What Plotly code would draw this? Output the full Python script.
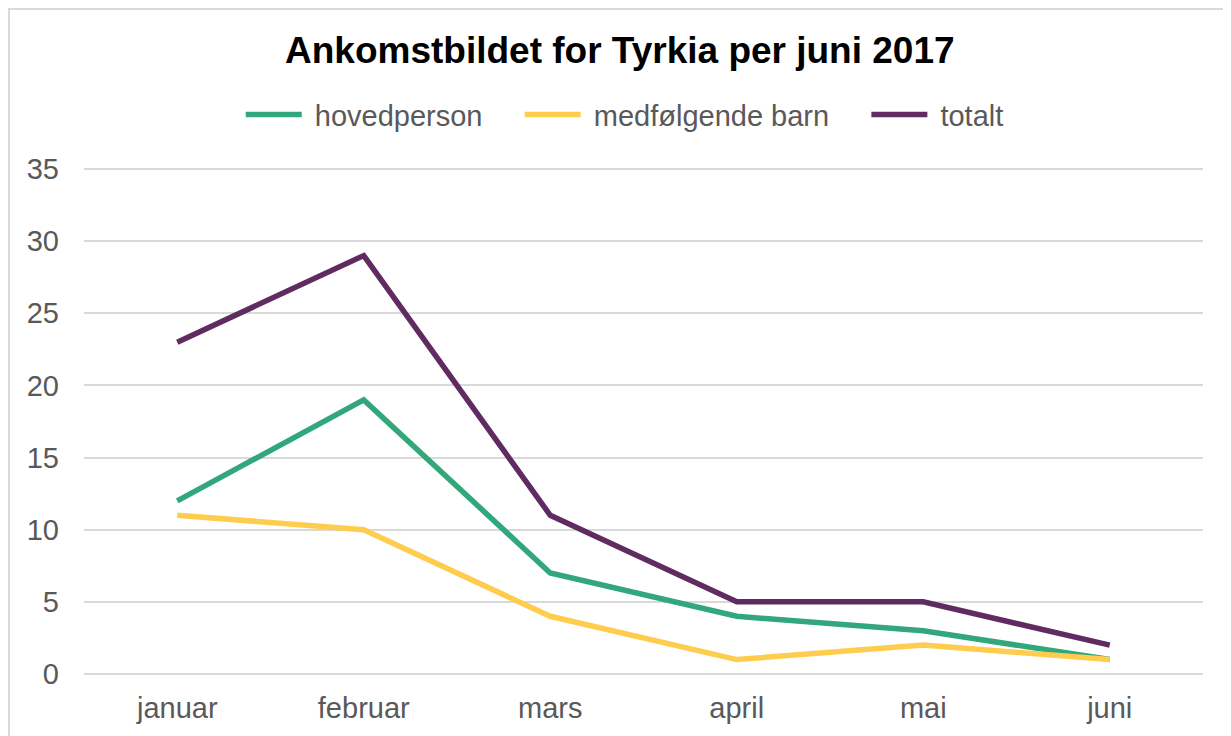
import plotly.graph_objects as go

months = ['januar', 'februar', 'mars', 'april', 'mai', 'juni']
hovedperson = [12, 19, 7, 4, 3, 1]
medfolgende_barn = [11, 10, 4, 1, 2, 1]
totalt = [23, 29, 11, 5, 5, 2]

NB = '\u00a0'
series = [
    ('hovedperson', hovedperson, '#31a77b'),
    ('medfølgende barn', medfolgende_barn, '#fecd4e'),
    ('totalt', totalt, '#5f2b61'),
]

fig = go.Figure()
for name, vals, col in series:
    fig.add_trace(go.Scatter(x=months, y=vals, mode='lines',
                             name=NB + name + NB * 4,
                             line=dict(color=col, width=5.5)))

fig.update_layout(
    width=1231, height=736,
    margin=dict(l=76, r=36, t=160, b=69),
    paper_bgcolor='white', plot_bgcolor='white',
    font=dict(family='Liberation Sans, Arial, sans-serif', color='#595959', size=29),
    title=dict(text='<b>Ankomstbildet for Tyrkia per juni 2017</b>',
               x=0.497, xanchor='center', y=0.943, yanchor='middle',
               font=dict(size=37, color='black')),
    legend=dict(orientation='h', x=0.514, xanchor='center', xref='container',
                y=0.855, yref='container', yanchor='middle',
                font=dict(size=29, color='#595959'), itemwidth=56,
                traceorder='normal'),
    showlegend=True,
)
fig.update_xaxes(type='category', range=[-0.5, 5.5], showgrid=False,
                 showline=False, ticks='', ticklabelstandoff=13,
                 tickfont=dict(size=29))
fig.update_yaxes(range=[-0.07, 35.07], tickvals=[0, 5, 10, 15, 20, 25, 30, 35],
                 showgrid=True, gridcolor='#d9d9d9',
                 gridwidth=1.5, zeroline=False, showline=False, ticks='',
                 ticklabelstandoff=24, tickfont=dict(size=29))

# light outer frame of the chart area
fig.add_shape(type='rect', xref='paper', yref='paper',
              x0=-75 / 1119, x1=1.1, y0=-0.3, y1=666 / 507,
              line=dict(color='#d9d9d9', width=2), fillcolor='rgba(0,0,0,0)',
              layer='below')

fig.write_html('out.html')
